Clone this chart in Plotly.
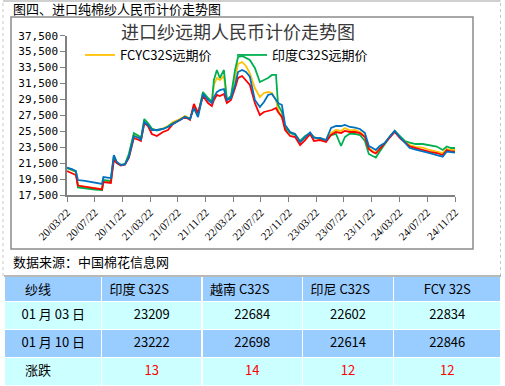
import plotly.graph_objects as go

# ---------------- data ----------------
dates = ["2020-03-22","2020-04-13","2020-04-30","2020-05-09","2020-06-09","2020-07-23","2020-08-23","2020-08-29","2020-10-01","2020-10-14",
         "2020-10-27","2020-11-14","2020-12-02","2020-12-19","2021-01-10","2021-02-01","2021-02-10","2021-02-25","2021-03-13","2021-03-30",
         "2021-04-21","2021-05-18","2021-06-09","2021-07-01","2021-08-01","2021-08-23","2021-09-14","2021-10-01","2021-10-19","2021-11-10",
         "2021-12-02","2021-12-19","2021-12-28","2022-01-10","2022-01-23","2022-02-10","2022-02-23","2022-03-13","2022-03-31","2022-04-13",
         "2022-05-01","2022-05-18","2022-06-04","2022-06-26","2022-07-18","2022-08-05","2022-08-23","2022-09-09","2022-09-27","2022-10-06",
         "2022-10-23","2022-11-06","2022-11-28","2022-12-20","2023-01-11","2023-02-02","2023-02-24","2023-03-13","2023-04-08","2023-05-05",
         "2023-05-27","2023-06-18","2023-07-10","2023-07-27","2023-08-18","2023-09-09","2023-10-01","2023-10-23","2023-11-09","2023-11-26",
         "2023-12-10","2023-12-27","2024-01-18","2024-02-09","2024-03-02","2024-03-24","2024-04-15","2024-05-07","2024-06-02","2024-07-03",
         "2024-08-03","2024-09-03","2024-09-29","2024-10-17","2024-11-04","2024-11-22"]

fcy = [20890,20640,20390,18630,18500,18380,18250,19320,19200,22270,
       21520,21270,21330,22520,25160,24780,24470,26790,26410,25790,
       25660,25850,26160,26670,27040,27420,27100,28550,27540,30310,
       29550,29180,31310,32190,31940,32440,29430,29800,32440,33950,
       34200,33700,32780,30930,29800,30310,30430,30310,29430,28170,
       27170,26160,25410,25160,24150,24780,25280,24660,24660,24400,
       25280,25660,25540,25910,25600,25660,25410,24910,23400,23020,
       22770,23400,24030,24840,25540,24780,24150,23780,23530,23460,
       23150,22960,22770,23280,23150,23150]

india = [20890,20640,20450,18440,18320,18190,18130,19380,19260,22400,
         21580,21270,21390,22650,25280,24910,24530,27040,26540,25850,
         25600,25790,26100,26540,26920,27360,27040,28670,27670,30430,
         29680,29180,31940,33190,32190,33190,29430,29930,33190,34830,
         34950,34700,34450,33450,31690,31940,32190,32570,32570,28800,
         27920,25910,25280,25030,24280,24910,25280,24780,24530,24400,
         25030,25160,23650,24780,25220,25160,25030,24280,22650,22400,
         22210,22960,23900,24780,25540,24910,24280,24090,23900,23900,
         23780,23590,23150,23590,23400,23400]

vietnam = [20510,20260,20010,18690,18570,18380,18190,19130,19010,21890,
           21520,21200,21330,22150,24660,24400,24280,26540,26160,25160,
           24910,25410,25660,26410,26920,27290,26920,28930,27800,29930,
           29050,28670,29430,30060,29930,30180,29050,29430,30930,32190,
           32440,31940,31310,29050,27540,27920,28050,28170,28420,27920,
           27290,25660,24910,24780,23780,24400,25160,24280,24400,24150,
           25030,25410,25280,25540,25410,25410,25280,24780,23280,22900,
           22710,23280,24030,24780,25410,24660,24150,23590,23400,23150,
           22900,22770,22520,23150,22960,22940]

indonesia = [20950,20760,20510,19380,19260,19070,18880,19760,19630,22520,
             21640,21270,21330,22270,24910,24660,24400,26670,26290,25660,
             25660,25790,26040,26410,26920,27290,27040,28420,27290,30180,
             29430,29050,29800,30430,30680,30810,29430,29680,31310,32940,
             33190,32940,32350,29430,28550,29180,30060,30180,29430,29050,
             28800,26290,25410,25160,24150,24780,25350,24660,24660,24400,
             25910,26160,26160,26290,26040,25970,25790,25280,23650,23400,
             23150,23650,24030,24840,25540,24780,24150,23400,23210,23020,
             22770,22520,22310,22960,22900,22810]

series_names = ["FCYC32S远期价", "印度C32S远期价", "越南C32S远期价", "印尼C32S远期价"]
y_ticks = [17500, 19500, 21500, 23500, 25500, 27500, 29500, 31500, 33500, 35500, 37500]

table_header = ["纱线", "印度 C32S", "越南 C32S", "印尼 C32S", "FCY 32S"]
table_rows = ["01 月 03 日", "01 月 10 日", "涨跌"]
tbl_india = [23209, 23222, 13]
tbl_vietnam = [22684, 22698, 14]
tbl_indonesia = [22602, 22614, 12]
tbl_fcy = [22834, 22846, 12]

# ---------------- layout helpers ----------------
W, H = 505, 386
def fx(x):
    return x / W
def fy(y):
    return (H - y) / H

CJK = "Noto Sans CJK SC"

fig = go.Figure()
styles = [("#FFC000", True), ("#00B050", True), ("#FF0000", False), ("#0070C0", False)]
for name, vals, (color, show) in zip(series_names, [fcy, india, vietnam, indonesia], styles):
    fig.add_trace(go.Scatter(x=dates, y=vals, mode="lines", name=name,
                             line=dict(color=color, width=1.8), showlegend=show))

nb = "\u00a0"
col1 = ["\u2002" + nb + table_rows[0], "\u2002" + nb + table_rows[1], "\u3000" + table_rows[2]]
hdr = ["\u3000" + table_header[0]] + table_header[1:]
fills = [["#CCFFFF", "#99CCFF", "#CCFFFF"]] * 5
fcolors = [["black"] * 3] + [["black", "black", "red"]] * 4

fig.add_trace(go.Table(
    domain=dict(x=[fx(4), fx(501)], y=[0, fy(276.5)]),
    columnwidth=[97.5, 100.5, 100.5, 91, 107.5],
    header=dict(values=hdr, height=25, fill=dict(color="#99CCFF"),
                line=dict(color="white", width=1.5),
                align=["left", "left", "left", "left", "center"],
                font=dict(family=CJK, size=13, color="black")),
    cells=dict(values=[col1, tbl_india, tbl_vietnam, tbl_indonesia, tbl_fcy], height=28,
               fill=dict(color=fills), line=dict(color="white", width=1.5),
               align=["left", "center", "center", "center", "center"],
               font=dict(family=CJK, size=13, color=fcolors)),
))

shapes = [
    # chart frame
    dict(type="rect", xref="paper", yref="paper", x0=fx(11), x1=fx(473), y0=fy(249), y1=fy(17),
         line=dict(color="#8C8C8C", width=1.5)),
    # outer dashed frame
    dict(type="line", xref="paper", yref="paper", x0=fx(3), x1=fx(3), y0=fy(276), y1=fy(0),
         line=dict(color="#C8C8C8", width=1, dash="dot")),
    dict(type="line", xref="paper", yref="paper", x0=fx(500.5), x1=fx(500.5), y0=fy(276), y1=fy(0),
         line=dict(color="#C8C8C8", width=1, dash="dot")),
    dict(type="line", xref="paper", yref="paper", x0=fx(3), x1=fx(500.5), y0=fy(1), y1=fy(1),
         line=dict(color="#A0A0A0", width=1)),
    # table top rule
    dict(type="line", xref="paper", yref="paper", x0=fx(4), x1=fx(501), y0=fy(276), y1=fy(276),
         line=dict(color="#A0A0A0", width=1.5)),
]

annotations = [
    dict(text="图四、进口纯棉纱人民币计价走势图", xref="paper", yref="paper", x=fx(11), y=fy(9),
         xanchor="left", yanchor="middle", showarrow=False, font=dict(family=CJK, size=13, color="black")),
    dict(text="进口纱远期人民币计价走势图", xref="paper", yref="paper", x=fx(238), y=fy(31),
         xanchor="center", yanchor="middle", showarrow=False, font=dict(family=CJK, size=18, color="#3A3A3A")),
    dict(text="数据来源：中国棉花信息网", xref="paper", yref="paper", x=fx(11), y=fy(261),
         xanchor="left", yanchor="middle", showarrow=False, font=dict(family=CJK, size=13, color="black")),
]

fig.update_layout(
    width=W, height=H, margin=dict(l=0, r=0, t=0, b=0, autoexpand=False),
    paper_bgcolor="white", plot_bgcolor="white",
    showlegend=True,
    legend=dict(orientation="h", x=fx(80), y=fy(40), xanchor="left", yanchor="top",
                bgcolor="rgba(0,0,0,0)", font=dict(family=CJK, size=13, color="black"),
                entrywidth=107, entrywidthmode="pixels", itemwidth=30),
    xaxis=dict(domain=[fx(67), fx(455)], type="date", range=["2020-03-22", "2024-11-22"],
               tick0="2020-03-22", dtick="M4", tickformat="%y/%m/%d", tickangle=-45,
               ticks="outside", ticklen=5, tickcolor="#808080", showline=True, linecolor="#808080",
               linewidth=1.5, showgrid=False, zeroline=False, automargin=False,
               tickfont=dict(family="Liberation Serif", size=11, color="black")),
    yaxis=dict(domain=[fy(195), fy(35.7)], range=[17500, 37500], tickvals=y_ticks,
               tickformat=",d", ticks="outside", ticklen=5, tickcolor="#808080", showline=True,
               linecolor="#808080", linewidth=1.5, showgrid=False, zeroline=False, automargin=False,
               tickfont=dict(family="DejaVu Sans Mono", size=11, color="black")),
    shapes=shapes, annotations=annotations,
)

fig.write_html("out.html", config={"displayModeBar": False},
               post_script="document.body.style.margin='0';document.body.style.padding='0';"
                           "document.documentElement.style.overflow='hidden';")
